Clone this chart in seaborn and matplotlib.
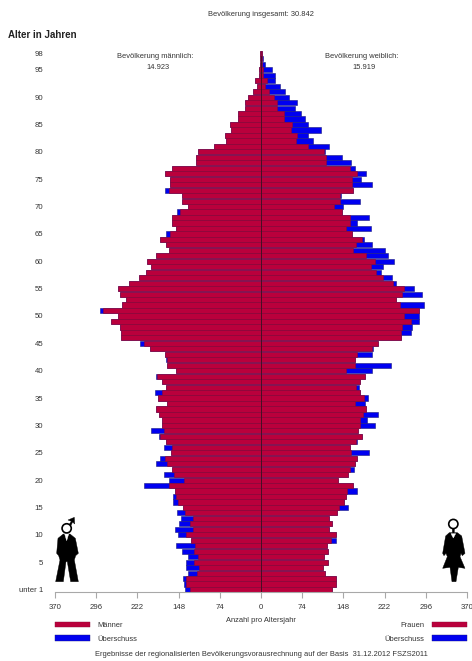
import numpy as np
import pandas as pd
import matplotlib
matplotlib.use("Agg")
import matplotlib.pyplot as plt
from matplotlib.patches import Polygon, Circle, Patch
import seaborn as sns

ages = list(range(99))
men = [136,139,140,131,135,135,131,141,152,125,
       149,155,147,144,150,140,158,158,154,210,
       165,174,159,189,181,162,174,170,184,198,
       178,177,183,189,168,185,191,171,177,189,
       153,168,171,173,199,218,252,251,253,270,
       257,290,250,243,254,257,237,220,207,198,
       204,189,165,171,182,170,153,160,159,150,
       132,141,142,172,164,164,172,159,117,117,
       113,84,63,65,53,56,41,42,29,29,
       23,14,8,10,4,4,2,2,1]
women = [128,134,134,115,111,121,113,120,119,134,
         134,123,128,123,137,156,149,152,173,166,
         138,156,167,168,173,194,160,173,182,175,
         204,190,210,189,187,192,178,176,178,186,
         200,234,169,200,201,211,251,269,272,284,
         283,284,293,243,289,275,243,235,216,219,
         239,229,222,200,185,164,198,172,194,146,
         148,177,144,166,199,180,188,169,161,146,
         115,122,93,84,107,84,79,72,61,64,
         50,44,35,26,26,19,7,4,2]
age_ticks = [0,5,10,15,20,25,30,35,40,45,50,55,60,65,70,75,80,85,90,95,98]
age_labels = ["unter 1"] + [str(a) for a in age_ticks[1:]]
count_ticks = [-370,-296,-222,-148,-74,0,74,148,222,296,370]
count_labels = [str(abs(v)) for v in count_ticks]

RED, RED_EDGE = "#BA003C", "#8A0A36"
BLUE, BLUE_EDGE = "#0000F0", "#1A1A80"
TXT = "#333333"
GREY = "#A8A8A8"

sns.set_theme(style="white")
plt.rcParams["font.family"] = ["Liberation Sans", "DejaVu Sans"]
W, H = 472, 661
fig = plt.figure(figsize=(W/100, H/100), dpi=100)
ax = fig.add_axes([55/W, 1-591.7/H, 412/W, (591.7-48)/H])

df = pd.DataFrame({"age": ages, "men": men, "women": women})
df["red"] = df[["men", "women"]].min(axis=1)
bar = dict(y=df["age"], orient="y", native_scale=True, saturation=1, width=0.94, linewidth=0.4, ax=ax)
sns.barplot(x=-df["men"], color=BLUE, edgecolor=BLUE_EDGE, **bar)
sns.barplot(x=df["women"], color=BLUE, edgecolor=BLUE_EDGE, **bar)
sns.barplot(x=-df["red"], color=RED, edgecolor=RED_EDGE, **bar)
sns.barplot(x=df["red"], color=RED, edgecolor=RED_EDGE, **bar)
ax.axvline(0, color="#3A1020", lw=0.6, ymin=0, ymax=0.985, zorder=5)

ax.set_xlim(-370, 370)
ax.set_ylim(-0.40, 98.99)
ax.set_xlabel(""); ax.set_ylabel("")
ax.set_xticks(count_ticks, count_labels)
ax.set_yticks(age_ticks, age_labels)
ax.tick_params(axis="x", length=4, width=0.8, color=GREY, labelsize=5.6, labelcolor=TXT, pad=4.5, bottom=True)
ax.tick_params(axis="y", length=0, labelsize=5.6, labelcolor=TXT, pad=8.5)
for s in ("top", "left", "right"):
    ax.spines[s].set_visible(False)
ax.spines["bottom"].set_color(GREY)
ax.spines["bottom"].set_linewidth(0.8)

def label(x, y, s, ha="center", size=5.4, **kw):
    fig.text(x/W, 1-y/H, s, ha=ha, va="center", fontsize=size, color=kw.pop("color", TXT), **kw)

label(261, 14.5, "Bevölkerung insgesamt: 30.842")
label(8, 34.5, "Alter in Jahren", ha="left", size=7, fontweight="bold", color="#222222")
label(155.5, 56, "Bevölkerung männlich:")
label(158, 67.5, "14.923")
label(362, 56, "Bevölkerung weiblich:")
label(364, 67.5, "15.919")
label(261, 620, "Anzahl pro Altersjahr")
label(261, 655, "Ergebnisse der regionalisierten Bevölkerungsvorausrechnung auf der Basis  31.12.2012 FSZS2011")

leg_kw = dict(fontsize=5.4, frameon=False, handlelength=4.7, handleheight=0.78, handletextpad=0.95,
              labelspacing=0.82, borderpad=0, borderaxespad=0, labelcolor=TXT,
              bbox_transform=fig.transFigure)
h_m = [Patch(fc=RED, ec=RED_EDGE, lw=0.3), Patch(fc=BLUE, ec=BLUE_EDGE, lw=0.3)]
left = ax.legend(h_m, ["Männer", "Überschuss"], loc="upper left", bbox_to_anchor=(55/W, 1-621.5/H), **leg_kw)
ax.add_artist(left)
ax.legend(h_m, ["Frauen", "Überschuss"], loc="upper right", bbox_to_anchor=(467/W, 1-621.5/H), markerfirst=False, **leg_kw)

# Pictograms, in a transparent overlay measured in pixels
ov = fig.add_axes([0, 0, 1, 1], facecolor="none", zorder=6)
ov.set_xlim(0, W); ov.set_ylim(H, 0); ov.axis("off")

def poly(pts, x0, color="black"):
    ov.add_patch(Polygon([(x0+a/3, 510+b/3) for a, b in pts], closed=True, fc=color, ec=color, lw=0.3))

def ring(cx, cy):
    ov.add_patch(Circle((cx, cy), 4.6, fc="white", ec="black", lw=1.2))

poly([(70,72),(90,72),(106,85),(115,130),(107,137),(103,150),(115,215),(92,215),(82,155),(78,155),
      (70,215),(47,215),(60,150),(56,137),(50,130),(54,85)], 40)
poly([(74,72),(86,72),(80,92)], 40, "white")
poly([(86,46),(94,34),(84,30),(103,22),(104,42),(98,36),(91,50)], 40)
ring(40+80/3, 510+55/3)

poly([(67,56),(73,56),(73,68),(82,68),(95,78),(105,130),(97,137),(93,130),(90,140),(105,175),(85,172),
      (78,215),(66,215),(60,172),(38,175),(52,140),(48,130),(42,137),(38,130),(47,78),(58,68),(67,68)], 430)
poly([(63,71),(77,71),(70,84)], 430, "white")
ring(430+70/3, 510+42/3)

fig.savefig("out.png", dpi=100, facecolor="white")
